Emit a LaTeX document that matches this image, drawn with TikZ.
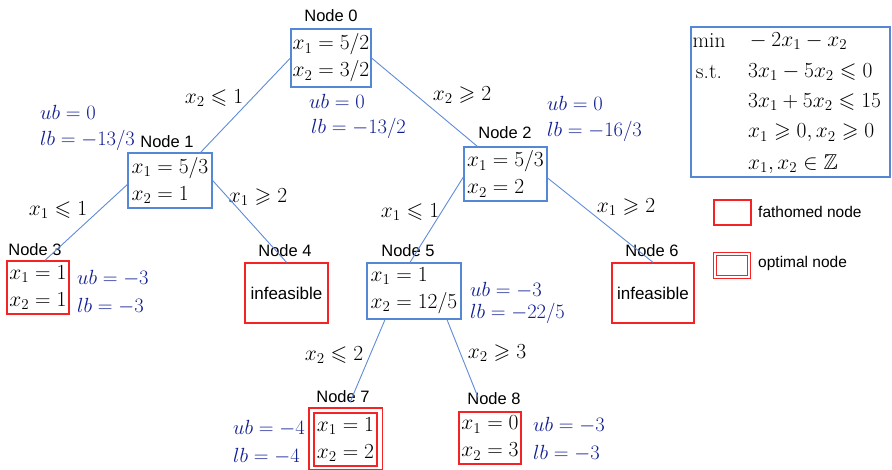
\RequirePackage{fix-cm}
\documentclass[tikz,border=0pt]{standalone}
\usepackage{amsmath,amssymb}
\usepackage{fontspec}
\newfontfamily\arialf{Liberation Sans}
\definecolor{boxblue}{RGB}{85,135,215}
\definecolor{lineblue}{RGB}{95,140,215}
\definecolor{txtblue}{RGB}{15,28,145}
\definecolor{fred}{RGB}{245,35,35}
\newcommand\mfs{\fontsize{21.5}{27}\selectfont}
\newcommand\bndfs{\fontsize{20.5}{24}\selectfont}
\newcommand\nlabfs{\arialf\fontsize{16.5}{19}\selectfont}
\newcommand\legfs{\arialf\fontsize{15.5}{18}\selectfont}
\newcommand\infs{\arialf\fontsize{17}{20}\selectfont}
\tikzset{
  bx/.style={rectangle,draw=boxblue,line width=1.3pt,inner xsep=1.5pt,inner ysep=0pt,align=left,font=\mfs},
  fbx/.style={rectangle,draw=fred,line width=1.3pt,inner xsep=1.5pt,inner ysep=0pt,align=left,font=\mfs},
  nlab/.style={inner sep=0pt,font=\nlabfs},
  bnd/.style={inner sep=0pt,anchor=west,text=txtblue,font=\bndfs},
  elab/.style={inner sep=0pt,font=\mfs},
  conn/.style={draw=lineblue,line width=0.9pt},
  ptxt/.style={inner sep=0pt,anchor=west,font=\mfs},
  outerline/.style={draw=fred,line width=1.3pt},
}
\begin{document}
\begin{tikzpicture}[x=1pt,y=-1pt]
\useasboundingbox (0,0) rectangle (892,469);
% boxes
\node[bx,minimum height=58pt] (n0) at (331,58) {$x_1=5/2$\\$x_2=3/2$};
\node[bx,minimum width=84pt,minimum height=55pt] (n1) at (170,180.5) {$x_1=5/3$\\$x_2=1$};
\node[bx,minimum width=83pt,minimum height=54pt] (n2) at (505.5,174) {$x_1=5/3$\\$x_2=2$};
\node[fbx,minimum width=62pt,minimum height=53pt] (n3) at (38,287.5) {$x_1=1$\\$x_2=1$};
\node[fbx,minimum width=83pt,minimum height=60pt,font=\infs] (n4) at (286.5,293) {infeasible};
\node[bx,minimum width=94pt,minimum height=56pt] (n5) at (414,291) {$x_1=1$\\$x_2=12/5$};
\node[fbx,minimum width=82pt,minimum height=60pt,font=\infs] (n6) at (653,293) {infeasible};
\node[fbx,minimum width=63pt,minimum height=53pt] (n7) at (345.5,439.5) {$x_1=1$\\$x_2=2$};
\draw[outerline] ([shift={(-4.5pt,4.5pt)}]n7.north west) rectangle ([shift={(4.5pt,-3pt)}]n7.south east);
\node[fbx,minimum width=62pt,minimum height=52pt] (n8) at (490,438) {$x_1=0$\\$x_2=3$};
% node labels
\node[nlab] (l0) at (331,16) {Node 0};
\node[nlab] (l1) at (167,142) {Node 1};
\node[nlab] (l2) at (505,133) {Node 2};
\node[nlab] (l3) at (35,250) {Node 3};
\node[nlab] (l4) at (285,251) {Node 4};
\node[nlab] (l5) at (408,251) {Node 5};
\node[nlab] (l6) at (652,251) {Node 6};
\node[nlab] (l7) at (343,397) {Node 7};
\node[nlab] (l8) at (494,399) {Node 8};
% bounds
\node[bnd] (u0) at (309,101) {$ub=0$};
\node[bnd] (b0) at (311,128) {$lb=-13/2$};
\node[bnd] (u1) at (40,112) {$ub=0$};
\node[bnd] (b1) at (40,140) {$lb=-13/3$};
\node[bnd] (u2) at (547,103) {$ub=0$};
\node[bnd] (b2) at (547,131) {$lb=-16/3$};
\node[bnd] (u3) at (77,278) {$ub=-3$};
\node[bnd] (b3) at (77,306) {$lb=-3$};
\node[bnd] (u5) at (470,290) {$ub=-3$};
\node[bnd] (b5) at (470,313) {$lb=-22/5$};
\node[bnd] (u7) at (233,428) {$ub=-4$};
\node[bnd] (b7) at (233,456) {$lb=-4$};
\node[bnd] (u8) at (533,425) {$ub=-3$};
\node[bnd] (b8) at (533,453) {$lb=-3$};
% edge labels
\node[elab] (e01) at (214,98) {$x_2\leqslant 1$};
\node[elab] (e02) at (462,95) {$x_2\geqslant 2$};
\node[elab] (e13) at (58,210) {$x_1\leqslant 1$};
\node[elab] (e14) at (258,197) {$x_1\geqslant 2$};
\node[elab] (e25) at (410,212) {$x_1\leqslant 1$};
\node[elab] (e26) at (626,207) {$x_1\geqslant 2$};
\node[elab] (e57) at (334,355) {$x_2\leqslant 2$};
\node[elab] (e58) at (497,353) {$x_2\geqslant 3$};
% connectors
\draw[conn] (n0.west) -- ([xshift=-12pt]n1.north east);
\draw[conn] (n0.east) -- ([xshift=14pt]n2.north west);
\draw[conn] ([yshift=-4pt]n1.west) -- ([xshift=7pt]n3.north);
\draw[conn] (n1.east) -- (n4.north);
\draw[conn] ([yshift=-3pt]n2.west) -- ([xshift=-4pt]n5.north);
\draw[conn] ([yshift=-4pt]n2.east) -- (n6.north);
\draw[conn] ([xshift=-29pt]n5.south) -- ([xshift=4.5pt,yshift=10pt]n7.north);
\draw[conn] ([xshift=33pt]n5.south) -- ([xshift=-12pt,yshift=14pt]n8.north);
% problem box
\node[rectangle,draw=boxblue,line width=1.3pt,minimum width=199pt,minimum height=150pt,inner sep=0pt] (prob) at (790.5,102) {};
\node[inner sep=0pt,font=\mfs] (pmin) at (709,41) {$\min$};
\node[inner sep=0pt,font=\mfs] (pst) at (709,72) {s.t.};
\node[ptxt] (p1) at (745,41) {${}-2x_1-x_2$};
\node[ptxt] (p2) at (748,72) {$3x_1-5x_2\leqslant 0$};
\node[ptxt] (p3) at (748,102) {$3x_1+5x_2\leqslant 15$};
\node[ptxt] (p4) at (748,133) {$x_1\geqslant 0,x_2\geqslant 0$};
\node[ptxt] (p5) at (748,164) {$x_1,x_2\in\mathbb{Z}$};
% legend
\node[rectangle,draw=fred,line width=1.3pt,minimum width=37pt,minimum height=25pt] (lg1) at (732.5,212.5) {};
\node[inner sep=0pt,anchor=west,font=\legfs] (lt1) at (758,212) {fathomed node};
\node[rectangle,draw=fred,line width=1.3pt,double=white,double distance=2pt,minimum width=34pt,minimum height=23pt] (lg2) at (732,265.5) {};
\node[inner sep=0pt,anchor=west,font=\legfs] (lt2) at (758,263) {optimal node};
\end{tikzpicture}
\end{document}
